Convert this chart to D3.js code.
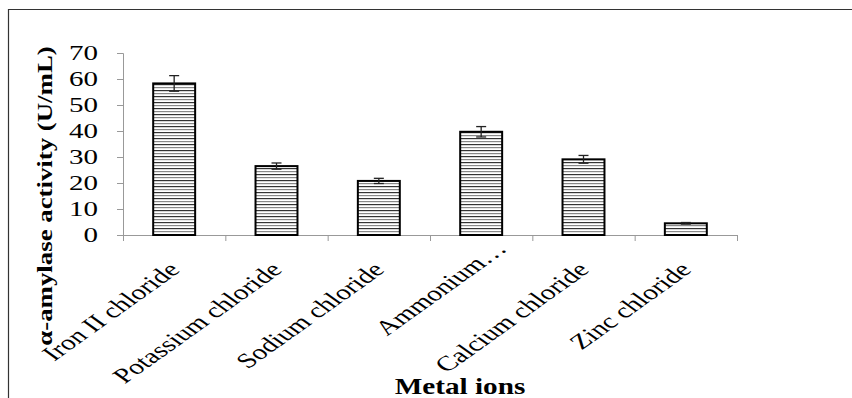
<!DOCTYPE html>
<html>
<head>
<meta charset="utf-8">
<script src="https://cdn.jsdelivr.net/npm/d3@7"></script>
<style>
  body { margin: 0; background: #fff; }
  svg { display: block; }
</style>
</head>
<body>
<div id="chart"></div>
<script>
  // data
  const categories = ["Iron II chloride", "Potassium chloride", "Sodium chloride", "Ammonium…", "Calcium chloride", "Zinc chloride"];
  const activity = [58.3, 26.5, 20.8, 39.7, 29.1, 4.5];
  const errors = [3.0, 1.2, 1.0, 2.0, 1.5, 0.3];
  const yTicks = [0, 10, 20, 30, 40, 50, 60, 70];

  const width = 852;
  const height = 398;
  const margin = { top: 53, left: 123, right: 115, bottom: 163 };
  const serif = "Liberation Serif, Times New Roman, serif";

  // the original picture is stretched sideways, so text gets a wider x scale
  const stretch = 1.4;

  const svg = d3.select("#chart")
    .append("svg")
    .attr("width", width)
    .attr("height", height);

  // hatch pattern for the bars
  const defs = svg.append("defs");
  const pat = defs.append("pattern")
    .attr("id", "hatch")
    .attr("patternUnits", "userSpaceOnUse")
    .attr("width", 6)
    .attr("height", 6);
  pat.append("rect").attr("width", 6).attr("height", 6).attr("fill", "#fff");
  pat.append("rect").attr("y", 0).attr("width", 6).attr("height", 1.2).attr("fill", "#333");
  pat.append("rect").attr("y", 3).attr("width", 6).attr("height", 1.2).attr("fill", "#888");

  // outer frame (top and left only)
  svg.append("line")
    .attr("x1", 8).attr("y1", 9.5).attr("x2", width).attr("y2", 9.5)
    .attr("stroke", "#333").attr("stroke-width", 1.2);
  svg.append("line")
    .attr("x1", 8.5).attr("y1", 9).attr("x2", 8.5).attr("y2", height)
    .attr("stroke", "#333").attr("stroke-width", 1.2);

  const x = d3.scaleBand()
    .domain(categories)
    .range([margin.left, width - margin.right])
    .paddingInner(0.59)
    .paddingOuter(0.295);

  const y = d3.scaleLinear()
    .domain([0, 70])
    .range([height - margin.bottom, margin.top]);

  const axisColor = "#999";

  // y axis
  const yAxis = svg.append("g")
    .attr("transform", `translate(${margin.left},0)`)
    .call(d3.axisLeft(y).tickValues(yTicks).tickSize(6).tickPadding(6));
  yAxis.select(".domain").attr("stroke", axisColor);
  yAxis.selectAll(".tick line").attr("stroke", axisColor);
  yAxis.selectAll("text")
    .attr("x", 0)
    .attr("transform", "translate(-25,0) scale(1.45,1)")
    .attr("font-family", serif)
    .attr("font-size", 20)
    .attr("fill", "#000");

  // x axis with ticks at band edges
  const x0 = margin.left, x1 = width - margin.right;
  const step = (x1 - x0) / categories.length;
  const xAxis = svg.append("g");
  xAxis.append("line")
    .attr("x1", x0).attr("x2", x1)
    .attr("y1", y(0) + 0.5).attr("y2", y(0) + 0.5)
    .attr("stroke", axisColor);
  xAxis.selectAll("line.edge")
    .data(d3.range(categories.length + 1))
    .enter()
    .append("line")
    .attr("class", "edge")
    .attr("x1", (d) => x0 + d * step + 0.5)
    .attr("x2", (d) => x0 + d * step + 0.5)
    .attr("y1", y(0))
    .attr("y2", y(0) + 6)
    .attr("stroke", axisColor);

  // bars
  svg.selectAll("rect.bar")
    .data(activity)
    .enter()
    .append("rect")
    .attr("class", "bar")
    .attr("x", (d, i) => x(categories[i]))
    .attr("y", (d) => y(d))
    .attr("width", x.bandwidth())
    .attr("height", (d) => y(0) - y(d))
    .attr("fill", "url(#hatch)")
    .attr("stroke", "#000")
    .attr("stroke-width", 2);

  // error bars
  const eb = svg.selectAll("g.err")
    .data(activity)
    .enter()
    .append("g")
    .attr("class", "err")
    .attr("stroke", "#222")
    .attr("stroke-width", 1.3);
  eb.append("line")
    .attr("x1", (d, i) => x(categories[i]) + x.bandwidth() / 2)
    .attr("x2", (d, i) => x(categories[i]) + x.bandwidth() / 2)
    .attr("y1", (d, i) => y(d + errors[i]))
    .attr("y2", (d, i) => y(d - errors[i]));
  eb.append("line")
    .attr("x1", (d, i) => x(categories[i]) + x.bandwidth() / 2 - 5)
    .attr("x2", (d, i) => x(categories[i]) + x.bandwidth() / 2 + 5)
    .attr("y1", (d, i) => y(d + errors[i]))
    .attr("y2", (d, i) => y(d + errors[i]));
  eb.append("line")
    .attr("x1", (d, i) => x(categories[i]) + x.bandwidth() / 2 - 5)
    .attr("x2", (d, i) => x(categories[i]) + x.bandwidth() / 2 + 5)
    .attr("y1", (d, i) => y(d - errors[i]))
    .attr("y2", (d, i) => y(d - errors[i]));

  // category labels, rotated then stretched; the truncated one sits higher
  svg.selectAll("text.cat")
    .data(categories)
    .enter()
    .append("text")
    .attr("class", "cat")
    .attr("transform", (d) => {
      const cx = x(d) + x.bandwidth() / 2;
      const short = d.endsWith("…");
      const ax = cx + (short ? 27 : 7);
      const ay = y(0) + (short ? 15 : 36);
      return `translate(${ax},${ay}) scale(${stretch},1) rotate(-45)`;
    })
    .attr("text-anchor", "end")
    .attr("font-family", serif)
    .attr("font-size", 21)
    .attr("fill", "#000")
    .text((d) => d);

  // axis titles
  svg.append("text")
    .attr("transform", `translate(52,196) rotate(-90) scale(1.22,1)`)
    .attr("text-anchor", "middle")
    .attr("font-family", serif)
    .attr("font-size", 22)
    .attr("font-weight", "bold")
    .text("α-amylase activity (U/mL)");

  svg.append("text")
    .attr("transform", "translate(460,394) scale(1.3,1)")
    .attr("text-anchor", "middle")
    .attr("font-family", serif)
    .attr("font-size", 22.5)
    .attr("font-weight", "bold")
    .text("Metal ions");
</script>
</body>
</html>
